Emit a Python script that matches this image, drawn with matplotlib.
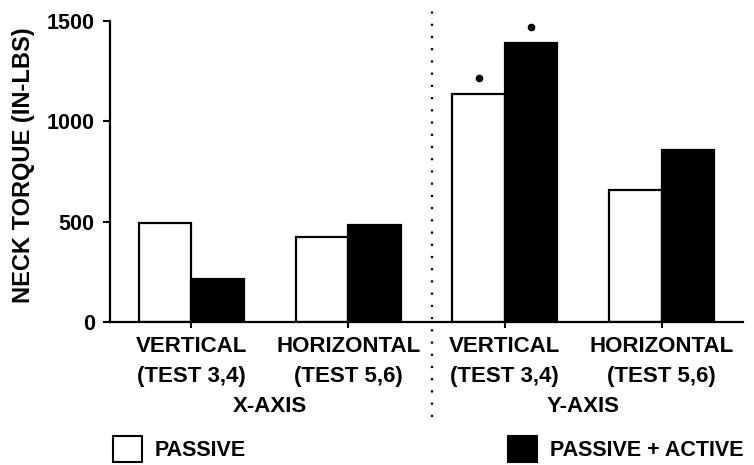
import matplotlib
matplotlib.use("Agg")
import matplotlib.pyplot as plt
from matplotlib.transforms import offset_copy
from matplotlib.patches import Patch
import numpy as np

# ---- data ----
categories = ["VERTICAL\n(TEST 3,4)", "HORIZONTAL\n(TEST 5,6)",
              "VERTICAL\n(TEST 3,4)", "HORIZONTAL\n(TEST 5,6)"]
groups = ["X-AXIS", "Y-AXIS"]
passive = [492, 424, 1137, 656]
passive_active = [214, 485, 1391, 855]
significant = [False, False, True, False]          # passive marked
significant_active = [False, False, True, False]   # passive+active marked
yticks = [0, 500, 1000, 1500]
ylabel = "NECK TORQUE (IN-LBS)"
legend_labels = ["PASSIVE", "PASSIVE + ACTIVE"]

plt.rcParams["font.family"] = ["Liberation Sans", "DejaVu Sans"]
plt.rcParams["font.weight"] = "bold"

W, H = 754, 465
fig = plt.figure(figsize=(W / 100, H / 100), dpi=100)
ax = fig.add_axes([110 / W, 1 - 322 / H, (743 - 110) / W, (322 - 21) / H])

x = np.arange(len(categories))
bw = 0.335
ax.bar(x - bw / 2, passive, bw, color="white", edgecolor="black", linewidth=1.6)
ax.bar(x + bw / 2, passive_active, bw, color="black", edgecolor="black", linewidth=1.6)

# significance dots
tr = offset_copy(ax.transData, fig=fig, x=0, y=16, units="dots")
for i in range(len(x)):
    if significant[i]:
        ax.plot(x[i] - bw / 2, passive[i], "o", color="black", ms=4.5, transform=tr, clip_on=False)
    if significant_active[i]:
        ax.plot(x[i] + bw / 2, passive_active[i], "o", color="black", ms=4.5, transform=tr, clip_on=False)

ax.set_xlim(-0.52, 3.52)
ax.set_ylim(0, 1500)
ax.set_yticks(yticks)
ax.set_yticklabels([str(v) for v in yticks], fontsize=15.5, fontweight="bold")
ax.set_xticks(x)
ax.set_xticklabels(categories, fontsize=16, fontweight="bold", linespacing=1.6)
ax.tick_params(axis="y", direction="out", length=5, width=1.5, pad=6)
ax.tick_params(axis="x", direction="out", length=4, width=1.5, pad=6)
for s in ["top", "right"]:
    ax.spines[s].set_visible(False)
for s in ["left", "bottom"]:
    ax.spines[s].set_linewidth(1.6)
ax.set_ylabel(ylabel, fontsize=17, fontweight="bold")
ax.yaxis.set_label_coords(-0.118, 0.52)

# group labels
for gi, g in enumerate(groups):
    cx = (x[2 * gi] + x[2 * gi + 1]) / 2
    ax.text(cx, -(406 - 322) / 301, g, transform=ax.get_xaxis_transform(),
            ha="center", va="center", fontsize=16, fontweight="bold")

# dotted separator
ax.axvline(1.535, ymin=-(417 - 322) / 301, ymax=(322 - 9) / 301, color="black",
           linewidth=1.6, linestyle=(0, (1, 4.5)), clip_on=False)

# legends
h1 = [Patch(facecolor="white", edgecolor="black", linewidth=1.5)]
h2 = [Patch(facecolor="black", edgecolor="black", linewidth=1.5)]
kw = dict(frameon=False, fontsize=15.5, handlelength=1.35, handleheight=1.45,
          handletextpad=0.6, borderpad=0, borderaxespad=0)
leg1 = fig.legend(h1, [legend_labels[0]], loc="center left",
                  bbox_to_anchor=(113 / W, 1 - 449 / H), **kw)
leg2 = fig.legend(h2, [legend_labels[1]], loc="center left",
                  bbox_to_anchor=(508 / W, 1 - 449 / H), **kw)
for leg in (leg1, leg2):
    for t in leg.get_texts():
        t.set_fontweight("bold")

fig.savefig("out.png", dpi=100)
